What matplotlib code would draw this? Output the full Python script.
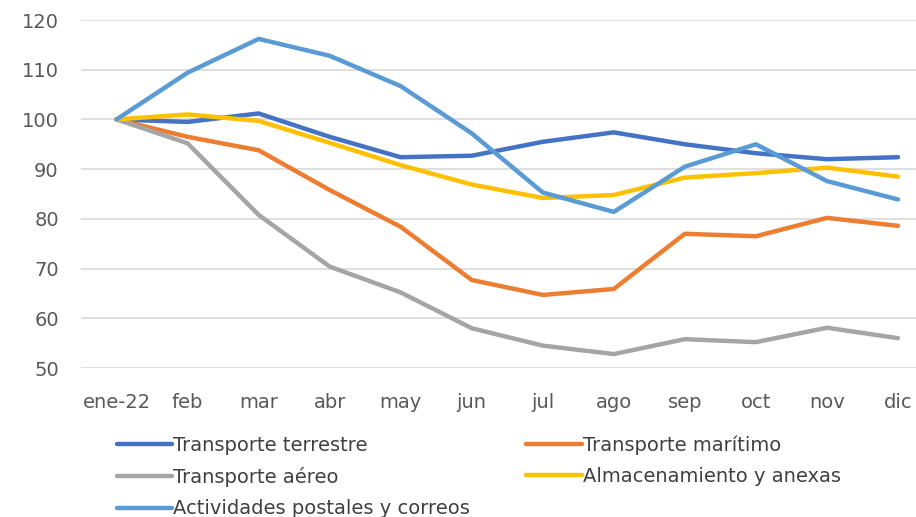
import numpy as np
import matplotlib.pyplot as plt

# categories (months of 2022)
months = ["ene-22", "feb", "mar", "abr", "may", "jun", "jul", "ago", "sep", "oct", "nov", "dic"]

# index values (ene-22 = 100)
terrestre = [100, 99.5, 101.2, 96.5, 92.4, 92.7, 95.5, 97.4, 95.0, 93.2, 92.0, 92.4]
maritimo = [100, 96.5, 93.8, 85.8, 78.4, 67.7, 64.7, 65.9, 77.0, 76.5, 80.2, 78.6]
aereo = [100, 95.2, 80.8, 70.4, 65.2, 58.0, 54.5, 52.8, 55.8, 55.2, 58.1, 56.0]
almacenamiento = [100, 101.0, 99.7, 95.3, 90.8, 86.9, 84.2, 84.8, 88.3, 89.2, 90.3, 88.5]
postales = [100, 109.4, 116.2, 112.8, 106.7, 97.2, 85.3, 81.4, 90.5, 95.0, 87.6, 83.9]

series = [
    ("Transporte terrestre", terrestre, "#4472C4"),
    ("Transporte marítimo", maritimo, "#ED7D31"),
    ("Transporte aéreo", aereo, "#A5A5A5"),
    ("Almacenamiento y anexas", almacenamiento, "#FFC000"),
    ("Actividades postales y correos", postales, "#5B9BD5"),
]

plt.rcParams['font.family'] = ['DejaVu Sans']

W, H = 916, 517
fig = plt.figure(figsize=(W / 100, H / 100), dpi=100)
ax = fig.add_axes([81 / W, (H - 368) / H, (916 - 81) / W, 348 / H])

x = np.arange(len(months))
lines = {}
for name, vals, color in series:
    lines[name], = ax.plot(x, vals, color=color, linewidth=3.2, label=name,
                           solid_joinstyle='round', solid_capstyle='round', zorder=3)

ax.set_ylim(50, 120)
ax.set_yticks(np.arange(50, 121, 10))
ax.set_xlim(-0.5, (916 - 117) / 71.0)
ax.set_xticks(x)
ax.set_xticklabels(months)
ax.grid(axis='y', color='#D9D9D9', linewidth=1.2, zorder=0)
for s in ax.spines.values():
    s.set_visible(False)
ax.tick_params(length=0, labelsize=14, colors='#595959')
ax.tick_params(axis='y', pad=16)
ax.tick_params(axis='x', pad=18)

# legend: Excel fills row by row, matplotlib column by column
order = ["Transporte terrestre", "Transporte aéreo", "Actividades postales y correos",
         "Transporte marítimo", "Almacenamiento y anexas"]
fig.legend([lines[n] for n in order], order, ncol=2, loc='upper left',
           bbox_to_anchor=(107 / W, 1 - 426 / H), frameon=False, fontsize=14,
           handlelength=2.85, handletextpad=0.05, columnspacing=2.9,
           labelspacing=0.62, borderpad=0, labelcolor='#404040')

fig.savefig("out.png", dpi=100)
